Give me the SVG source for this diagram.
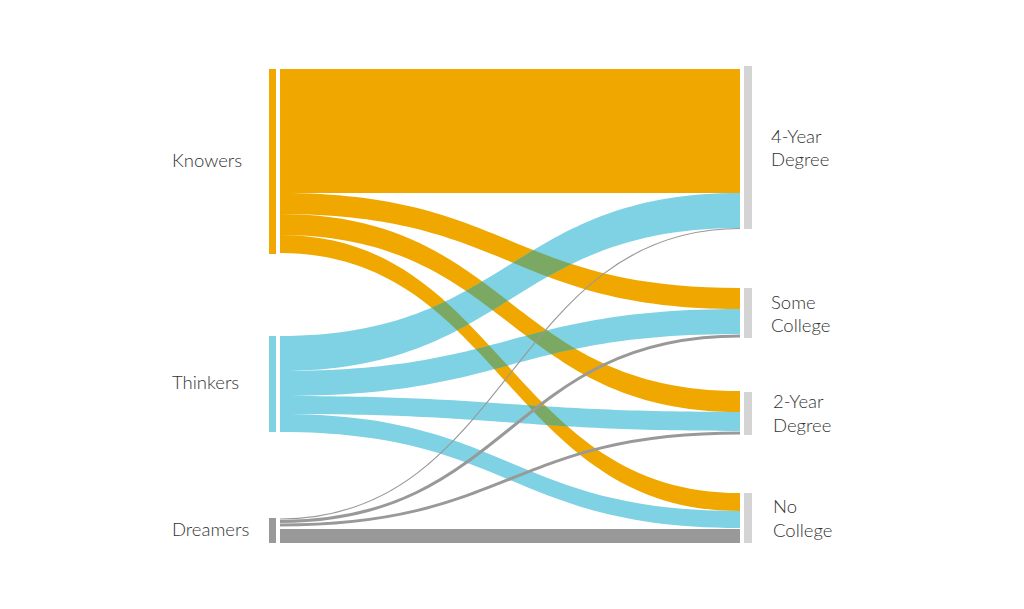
<svg xmlns="http://www.w3.org/2000/svg" xmlns:xlink="http://www.w3.org/1999/xlink" width="1024" height="609" viewBox="0 0 1024 609">
<style>
.lbl{font-family:Lato,"Liberation Sans",sans-serif;font-size:18.5px;fill:#333333;font-weight:300}
.or{fill:#f0a800}
.bl{fill:#7fd2e4}
.ov{fill:#7ba863}
.gr{fill:#999999}
.gl{fill:none;stroke:#999999}
.rb{fill:#d4d4d4}
</style>
<defs>
<path id="kSC" d="M280,193 C510,193 510,288 740,288 L740,309 C510,309 510,214 280,214 Z"/>
<path id="k2Y" d="M280,214 C510,214 510,391 740,391 L740,412 C510,412 510,235 280,235 Z"/>
<path id="kNC" d="M280,235 C500,235 510,493 740,493 L740,511 C510,511 500,253 280,253 Z"/>
<path id="t4Y" d="M280,336 C510,336 510,193 740,193 L740,228 C510,228 510,371 280,371 Z"/>
<path id="tSC" d="M280,371 C510,371 510,309 740,309 L740,334 C510,334 510,396 280,396 Z"/>
<path id="t2Y" d="M280,396 C510,396 510,412 740,412 L740,431 C510,431 510,414 280,414 Z"/>
<path id="tNC" d="M280,414 C510,414 510,511 740,511 L740,528 C510,528 510,432 280,432 Z"/>
<clipPath id="blueClip">
<use xlink:href="#t4Y"/><use xlink:href="#tSC"/><use xlink:href="#t2Y"/><use xlink:href="#tNC"/>
</clipPath>
</defs>
<rect width="1024" height="609" fill="#ffffff"/>
<g id="connectors">
<rect class="or" x="280" y="69" width="460" height="124"/>
<use class="or" xlink:href="#kSC"/>
<use class="or" xlink:href="#k2Y"/>
<use class="or" xlink:href="#kNC"/>
<use class="bl" xlink:href="#t4Y"/>
<use class="bl" xlink:href="#tSC"/>
<use class="bl" xlink:href="#t2Y"/>
<use class="bl" xlink:href="#tNC"/>
<g clip-path="url(#blueClip)">
<use class="ov" xlink:href="#kSC"/>
<use class="ov" xlink:href="#k2Y"/>
<use class="ov" xlink:href="#kNC"/>
</g>
<rect class="gr" x="280" y="529" width="460" height="14"/>
<path class="gl" stroke-width="1.2" d="M280,519 C510,519 510,228.5 740,228.5"/>
<path class="gl" stroke-width="3" d="M280,521.5 C510,521.5 510,336 740,336"/>
<path class="gl" stroke-width="3" d="M280,525 C510,525 510,433 740,433"/>
</g>
<g id="knowers">
<rect class="or" x="269" y="69" width="7" height="185"/>
<text class="lbl" x="172" y="167">Knowers</text>
</g>
<g id="thinkers">
<rect class="bl" x="269" y="336" width="7" height="96"/>
<text class="lbl" x="172" y="389">Thinkers</text>
</g>
<g id="dreamers">
<rect class="gr" x="269" y="518" width="7" height="25"/>
<text class="lbl" x="172" y="536">Dreamers</text>
</g>
<g id="four-year">
<rect class="rb" x="744" y="66" width="8" height="163"/>
<text class="lbl" x="771" y="143">4-Year</text>
<text class="lbl" x="771" y="166">Degree</text>
</g>
<g id="some-college">
<rect class="rb" x="744" y="288" width="8" height="50"/>
<text class="lbl" x="771" y="309">Some</text>
<text class="lbl" x="771" y="332">College</text>
</g>
<g id="two-year">
<rect class="rb" x="744" y="392" width="8" height="43"/>
<text class="lbl" x="773" y="408">2-Year</text>
<text class="lbl" x="773" y="432">Degree</text>
</g>
<g id="no-college">
<rect class="rb" x="744" y="493" width="8" height="50"/>
<text class="lbl" x="773" y="513">No</text>
<text class="lbl" x="773" y="537">College</text>
</g>
</svg>
